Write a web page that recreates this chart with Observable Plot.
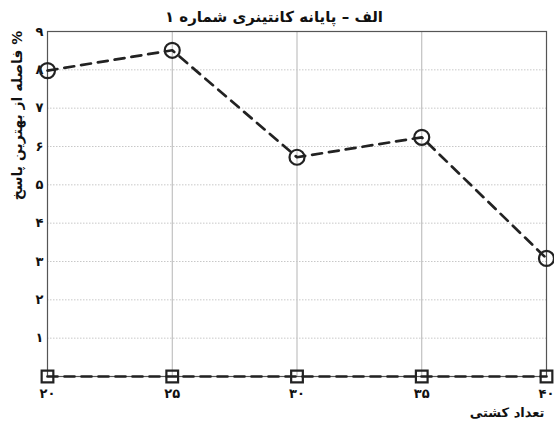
<!DOCTYPE html>
<html>
<head>
<meta charset="utf-8">
<script src="https://cdn.jsdelivr.net/npm/d3@7"></script>
<script src="https://cdn.jsdelivr.net/npm/@observablehq/plot@0.6"></script>
<style>
  body { margin: 0; background: #fff; font-family: "DejaVu Sans", sans-serif; }
  #title {
    width: 548px; height: 18px; line-height: 34px;
    text-align: center; font-weight: bold; font-size: 15px; color: #111;
  }
</style>
</head>
<body>
<div id="title" dir="rtl">الف – پایانه کانتینری شماره ۱</div>
<div id="chart"></div>
<script>
// Number of ships on the x axis
const ships = [20, 25, 30, 35, 40];
// Gap from the best solution (%) for the two methods
const gapCircles = [7.98, 8.51, 5.72, 6.24, 3.08];
const gapSquares = [0, 0, 0, 0, 0];
// Tick values
const xTicks = [20, 25, 30, 35, 40];
const yTicks = [1, 2, 3, 4, 5, 6, 7, 8, 9];
const xGrid = [25, 30, 35];
const yGrid = [1, 2, 3, 4, 5, 6, 7, 8];
// Axis titles
const xLabel = "تعداد کشتی";
const yLabel = "فاصله از بهترین پاسخ %";

const faDigits = "۰۱۲۳۴۵۶۷۸۹";
const fa = d => String(d).replace(/\d/g, c => faDigits[c]);

const circles = ships.map((s, i) => ({ships: s, gap: gapCircles[i]}));
const squares = ships.map((s, i) => ({ships: s, gap: gapSquares[i]}));

const ink = "#222";

const chart = Plot.plot({
  width: 554,
  height: 403,
  marginTop: 13,
  marginBottom: 45,
  marginLeft: 47,
  marginRight: 8,
  style: {fontFamily: "DejaVu Sans, sans-serif", background: "#fff", overflow: "visible"},
  x: {domain: [20, 40]},
  y: {domain: [0, 9]},
  marks: [
    Plot.gridX(xGrid, {stroke: "#b5b5b5", strokeOpacity: 1, strokeWidth: 1}),
    Plot.gridY(yGrid, {stroke: "#c8c8c8", strokeOpacity: 1, strokeWidth: 1, strokeDasharray: "1.5,1.5"}),
    Plot.frame({stroke: "#555", strokeWidth: 1.2}),
    Plot.axisX(xTicks, {
      tickSize: 0, tickPadding: 12, tickFormat: fa, label: null,
      fontSize: 13, fontWeight: "bold", fill: "#111"
    }),
    Plot.axisY(yTicks, {
      tickSize: 0, tickPadding: 4, tickFormat: fa, label: null,
      fontSize: 13, fontWeight: "bold", fill: "#111"
    }),
    Plot.line(circles, {x: "ships", y: "gap", stroke: ink, strokeWidth: 2.7, strokeDasharray: "10,7"}),
    Plot.dot(circles, {x: "ships", y: "gap", symbol: "circle", r: 7.5, stroke: ink, strokeWidth: 2.2, fill: "none"}),
    Plot.line(squares, {x: "ships", y: "gap", stroke: ink, strokeWidth: 2.7, strokeDasharray: "10,7"}),
    Plot.dot(squares, {x: "ships", y: "gap", symbol: "square", r: 6.6, stroke: ink, strokeWidth: 2.2, fill: "none"}),
    Plot.text([yLabel], {
      frameAnchor: "top-left", textAnchor: "middle", lineAnchor: "middle",
      rotate: -90, dx: -30, dy: 84,
      fontSize: 14, fontWeight: "bold", fill: "#111"
    }),
    Plot.text([xLabel], {
      frameAnchor: "bottom-right", textAnchor: "end", lineAnchor: "bottom",
      dx: -2, dy: 40,
      fontSize: 13, fontWeight: "bold", fill: "#111"
    })
  ]
});

document.getElementById("chart").appendChild(chart);
</script>
</body>
</html>
